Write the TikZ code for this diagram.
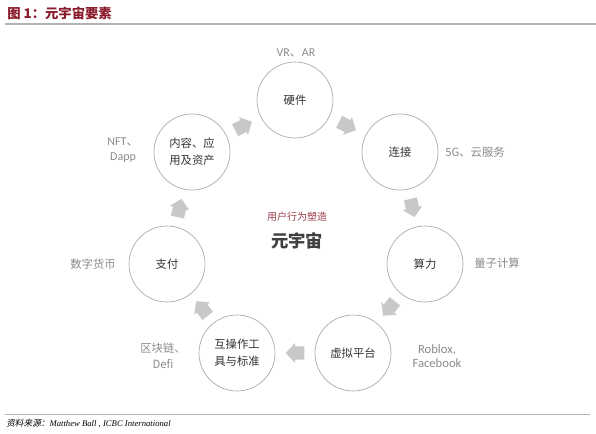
\documentclass[tikz,border=0pt]{standalone}
\usepackage{fontspec}
\setmainfont{Liberation Serif}
\setsansfont{Carlito}
\newfontfamily\cjk{Noto Sans CJK SC}
\newfontfamily\cjkslant[FakeSlant=0.2]{Noto Sans CJK SC}
\usetikzlibrary{positioning, calc}

\definecolor{titlered}{HTML}{8B1C2C}
\definecolor{userred}{HTML}{9B3A4A}
\definecolor{ringgray}{HTML}{A8A8A8}
\definecolor{notegray}{HTML}{8A8A8A}
\definecolor{arrowgray}{HTML}{C8C8C8}

% block arrow placed halfway between two rings, pointing from #1 to #2
\newcommand{\flowarrow}[2]{%
  \path let \p1=($(#2)-(#1)$), \n1={atan2(\y1,\x1)} in \pgfextra{\xdef\flowangle{\n1}};
  \fill[flow, shift={($(#1)!0.5!(#2)$)}, rotate=\flowangle]
    (-7pt,5pt) -- (0pt,5pt) -- (0pt,7.5pt) -- (7pt,0pt) -- (0pt,-7.5pt) -- (0pt,-5pt) -- (-7pt,-5pt) -- cycle;%
}

\begin{document}
\begin{tikzpicture}[
    x=0.75pt, y=-0.75pt,
    ring/.style={circle, draw=ringgray, line width=0.5pt, minimum size=57pt, inner sep=0pt,
                 align=center, font=\cjk\fontsize{8.5}{13}\selectfont, text=black!80},
    note/.style={align=center, font=\cjk\fontsize{8.5}{12}\selectfont, text=notegray},
    flow/.style={fill=arrowgray, draw=none},
]

\useasboundingbox (0,0) rectangle (596,433);

% title and rules
\node (Title) [anchor=west, inner sep=0pt, text=titlered, font=\cjk\bfseries\fontsize{10}{12}\selectfont] at (7,13) {图 1：元宇宙要素};
\draw[gray!60, line width=0.8pt] (5,24) -- (596,24);
\draw[gray!60, line width=0.6pt] (5,414) -- (590,414);
\node (Source) [anchor=west, inner sep=0pt, font=\fontsize{6.5}{8}\selectfont\itshape] at (6,424) {{\cjkslant 资料来源：}Matthew Ball , ICBC International};

% rings
\node (Hardware) [ring] at (295,100) {硬件};
\node (Network) [ring] at (400,152) {连接};
\node (Compute) [ring] at (425,264) {算力};
\node (Platform) [ring] at (353,353) {虚拟平台};
\node (Standard) [ring] at (237,353) {互操作工\\具与标准};
\node (Payment) [ring] at (167,264) {支付};
\node (Content) [ring] at (192,152) {内容、应\\用及资产};

% centre
\node (Behaviour) [text=userred, font=\cjk\fontsize{7.5}{9}\selectfont] at (297,217) {用户行为塑造};
\node (Metaverse) [below=1pt of Behaviour, text=black!75, font=\cjk\bfseries\fontsize{13}{15}\selectfont] {元宇宙};

% side notes
\node (HardwareNote) [note, font=\sffamily\fontsize{9}{11}\selectfont] at (296,53) {VR{\cjk 、}AR};
\node (NetworkNote) [note] at (475,152) {5G、云服务};
\node (ComputeNote) [note] at (497,263) {量子计算};
\node (PlatformNote) [note, font=\sffamily\fontsize{9.5}{10.5}\selectfont] at (437,356) {Roblox,\\Facebook};
\node (StandardNote) [note] at (163,356) {区块链、\\Defi};
\node (PaymentNote) [note] at (93,264) {数字货币};
\node (ContentNote) [note, font=\sffamily\fontsize{9}{11.5}\selectfont] at (123,150) {NFT{\cjk 、}\\Dapp};

% arrows round the ring
\flowarrow{Content}{Hardware}
\flowarrow{Hardware}{Network}
\flowarrow{Network}{Compute}
\flowarrow{Compute}{Platform}
\flowarrow{Platform}{Standard}
\flowarrow{Standard}{Payment}
\flowarrow{Payment}{Content}

\end{tikzpicture}
\end{document}
